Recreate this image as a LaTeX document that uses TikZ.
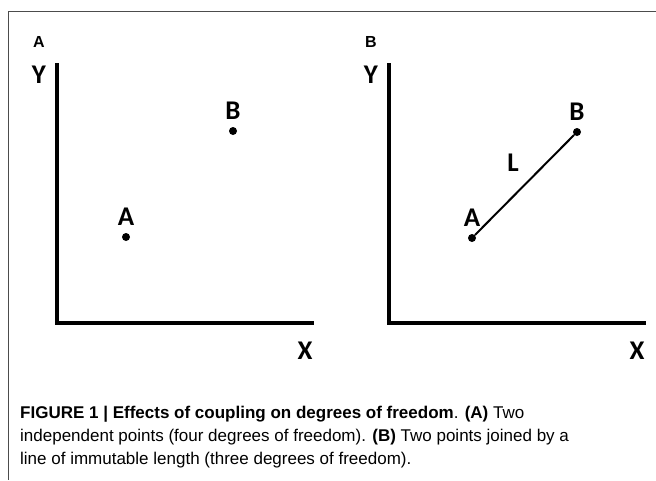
\documentclass[tikz,border=0pt]{standalone}
\usepackage{fontspec}
\setmainfont{Liberation Sans}
\newfontfamily\lblfont{Carlito}
\usepackage{tikz}
\usetikzlibrary{positioning}

\tikzset{
  axis/.style={line width=4pt, line join=miter},
  pt/.style={circle, fill=black, inner sep=0pt, minimum size=8pt},
  lbl/.style={font=\lblfont\bfseries\fontsize{27}{27}\selectfont, inner sep=0pt},
  panel/.style={font=\bfseries\fontsize{16}{16}\selectfont, inner sep=0pt},
  capline/.style={anchor=base west, inner sep=0pt, font=\fontsize{17}{23}\selectfont},
  frame/.style={draw=black!70, line width=0.8pt}
}

\begin{document}
\begin{tikzpicture}[x=1pt,y=-1pt]
		\useasboundingbox (0,0) rectangle (656,480);
		\draw[frame] (656,11) to (8,11) to (8,480);
		
		% axes of both panels
		\foreach \i/\p/\n in {0/A/a,332/B/b}
		{
		\coordinate (\n top) at (57+\i,63);
		\coordinate (\n o) at (57+\i,323);
		\coordinate (\n end) at (314+\i,323);
		\draw[axis] (\n top) to (\n o) to (\n end);
		\node[panel] (\n panel) at (39+\i,42) {\p};
		\node[lbl] (\n y) at (39+\i,75) {Y};
		\node[lbl] (\n x) at (305+\i,351) {X};
		}
		
		% (A) free points
		\node[pt] (aA) at (126,237) {};
		\node[pt] (aB) at (233,131) {};
		\node[lbl, above=7pt of aA] (aAl) {A};
		\node[lbl, above=7pt of aB] (aBl) {B};
		
		% (B) joined points
		\node[pt] (bA) at (472,238) {};
		\node[pt] (bB) at (577,132) {};
		\node[lbl, above=7pt of bA] (bAl) {A};
		\node[lbl, above=7pt of bB] (bBl) {B};
		\draw[line width=2pt] (bA) to (bB);
		\node[lbl] (L) at (513,163) {L};
		
		% caption
		\node[capline] (cap1) at (20,418)
		  {\textbf{FIGURE 1 | Effects of coupling on degrees of freedom}. \textbf{(A)} Two};
		\node[capline] (cap2) at (20,441)
		  {independent points (four degrees of freedom). \textbf{(B)} Two points joined by a};
		\node[capline] (cap3) at (20,464)
		  {line of immutable length (three degrees of freedom).};
\end{tikzpicture}
\end{document}
